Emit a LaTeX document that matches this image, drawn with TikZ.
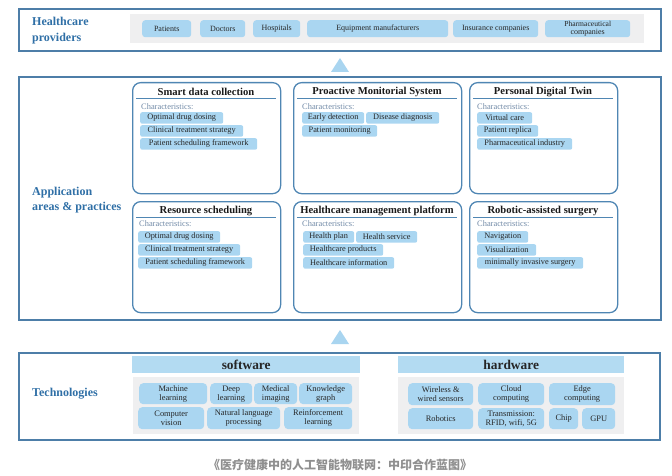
\documentclass[tikz,border=0pt]{standalone}
\usepackage{fontspec}
\setmainfont{Liberation Serif}
\newfontfamily\cjk{Noto Sans CJK SC}
\definecolor{frameblue}{HTML}{4D7EA8}
\definecolor{cardblue}{HTML}{4F86B3}
\definecolor{labelblue}{HTML}{2F6FA6}
\definecolor{chipblue}{HTML}{AAD6F1}
\definecolor{headblue}{HTML}{B3DBF2}
\definecolor{bandgray}{HTML}{EFEFF0}
\definecolor{chartext}{HTML}{7089A6}
\definecolor{captiongray}{HTML}{8F8F8F}
\definecolor{tribl}{HTML}{A9D5F0}
\newcommand\mybox[6]{\node[#1, anchor=north west, minimum width={(#4-#2)*1pt}, minimum height={(#5-#3)*1pt}] (#6) at (#2,#3)}
\tikzset{
  frame/.style={draw=frameblue, line width=1.6pt, inner sep=0pt},
  band/.style={fill=bandgray, inner sep=0pt},
  card/.style={draw=cardblue, line width=1.3pt, rounded corners=8pt, inner sep=0pt},
  topchip/.style={fill=chipblue, rounded corners=3pt, inner sep=0pt, align=center, text=black!85, font=\fontsize{8}{8}\selectfont},
  chip/.style={fill=chipblue, rounded corners=2pt, inner sep=0pt, text=black!85, font=\fontsize{8.3}{9}\selectfont},
  techchip/.style={fill=chipblue, rounded corners=4pt, inner sep=0pt, align=center, text=black!85, font=\fontsize{8.4}{9}\selectfont},
  head/.style={fill=headblue, inner sep=0pt, font=\fontsize{13.4}{14}\selectfont\bfseries, text=black!85},
  sidelabel/.style={anchor=west, align=left, inner sep=0pt, text=labelblue, font=\fontsize{12}{15.5}\selectfont\bfseries},
  cardtitle/.style={inner sep=0pt, font=\fontsize{10.6}{12}\selectfont\bfseries, text=black!90},
  titleline/.style={draw=cardblue, line width=1.5pt},
  chars/.style={anchor=west, inner sep=0pt, text=chartext, font=\fontsize{8.4}{9}\selectfont},
  tri/.style={fill=tribl}
}
\begin{document}
\begin{tikzpicture}[x=1pt,y=-1pt]
\useasboundingbox (0,0) rectangle (672,476);
% ---------- top band ----------
\mybox{frame}{18}{8}{660}{50}{topframe}{};
\mybox{band}{130}{14}{644}{43}{topband}{};
\node[sidelabel] (toplabel) at (32,30.5) {Healthcare\\providers};
\mybox{topchip}{142}{20}{191}{37}{p1}{Patients};
\mybox{topchip}{200}{20}{245}{37}{p2}{Doctors};
\mybox{topchip}{253}{20}{300}{37}{p3}{Hospitals};
\mybox{topchip}{307}{20}{448}{37}{p4}{Equipment manufacturers};
\mybox{topchip}{453}{20}{538}{37}{p5}{Insurance companies};
\mybox{topchip}{545}{20}{630}{37}{p6}{\fontsize{7.6}{8}\selectfont Pharmaceutical\\[-0.5pt]companies};
\fill[tri] (331,72) -- (340,58) -- (349,72) -- cycle;
% ---------- middle band ----------
\mybox{frame}{18}{76}{660}{319}{midframe}{};
\node[sidelabel] (midlabel) at (32,200) {Application\\areas \& practices};
% cards
\mybox{card}{132}{82}{280}{193}{c1}{};
\mybox{card}{293}{82}{461}{193}{c2}{};
\mybox{card}{469}{82}{617}{193}{c3}{};
\mybox{card}{132}{201}{280}{312}{c4}{};
\mybox{card}{293}{201}{461}{312}{c5}{};
\mybox{card}{469}{201}{617}{312}{c6}{};
\node[cardtitle] (t1) at (206,92) {Smart data collection};
\node[cardtitle] (t2) at (377,92) {Proactive Monitorial System};
\node[cardtitle] (t3) at (543,92) {Personal Digital Twin};
\node[cardtitle] (t4) at (206,211) {Resource scheduling};
\node[cardtitle] (t5) at (377,211) {Healthcare management platform};
\node[cardtitle] (t6) at (543,211) {Robotic-assisted surgery};
\draw[titleline] (136,98.5) -- (276,98.5);
\draw[titleline] (297,98.5) -- (457,98.5);
\draw[titleline] (473,98.5) -- (613,98.5);
\draw[titleline] (136,217.5) -- (276,217.5);
\draw[titleline] (297,217.5) -- (457,217.5);
\draw[titleline] (473,217.5) -- (613,217.5);
\node[chars] (h1) at (141,106.5) {Characteristics:};
\node[chars] (h2) at (302,106.5) {Characteristics:};
\node[chars] (h3) at (477,106.5) {Characteristics:};
\node[chars] (h4) at (139,224) {Characteristics:};
\node[chars] (h5) at (302,224) {Characteristics:};
\node[chars] (h6) at (477,224) {Characteristics:};
% card 1
\mybox{chip}{140}{112}{223}{123.5}{a1}{Optimal drug dosing};
\mybox{chip}{140}{125}{243}{136.5}{a2}{Clinical treatment strategy};
\mybox{chip}{140}{138}{257}{149.5}{a3}{Patient scheduling framework};
% card 2
\mybox{chip}{302}{112}{364}{123.5}{b1}{Early detection};
\mybox{chip}{366}{112}{439}{123.5}{b2}{Disease diagnosis};
\mybox{chip}{302}{125}{377}{136.5}{b3}{Patient monitoring};
% card 3
\mybox{chip}{477}{112}{532}{123.5}{d1}{Virtual care};
\mybox{chip}{477}{125}{538}{136.5}{d2}{Patient replica};
\mybox{chip}{477}{138}{572}{149.5}{d3}{Pharmaceutical industry};
% card 4
\mybox{chip}{138}{231}{220}{242.5}{e1}{Optimal drug dosing};
\mybox{chip}{138}{244}{240}{255.5}{e2}{Clinical treatment strategy};
\mybox{chip}{138}{257}{252}{268.5}{e3}{Patient scheduling framework};
% card 5
\mybox{chip}{303}{231}{354}{242.5}{f1}{Health plan};
\mybox{chip}{356}{231}{417}{242.5}{f2}{Health service};
\mybox{chip}{303}{244}{383}{255.5}{f3}{Healthcare products};
\mybox{chip}{303}{257}{394}{268.5}{f4}{Healthcare information};
% card 6
\mybox{chip}{477}{231}{528}{242.5}{g1}{Navigation};
\mybox{chip}{477}{244}{536}{255.5}{g2}{Visualization};
\mybox{chip}{477}{257}{583}{268.5}{g3}{minimally invasive surgery};
\fill[tri] (331,344) -- (340,330) -- (349,344) -- cycle;
% ---------- bottom band ----------
\mybox{frame}{18}{352}{659}{439}{botframe}{};
\node[sidelabel] (botlabel) at (32,394) {Technologies};
\mybox{head}{132}{356}{360}{373}{sw}{software};
\mybox{band}{133}{377}{359}{434}{swband}{};
\mybox{techchip}{139}{383}{207}{404}{s1}{Machine\\learning};
\mybox{techchip}{210}{383}{252}{404}{s2}{Deep\\learning};
\mybox{techchip}{254}{383}{297}{404}{s3}{Medical\\imaging};
\mybox{techchip}{299}{383}{352}{404}{s4}{Knowledge\\graph};
\mybox{techchip}{138}{407}{204}{429}{s5}{Computer\\vision};
\mybox{techchip}{207}{407}{280}{429}{s6}{Natural language\\processing};
\mybox{techchip}{284}{407}{352}{429}{s7}{Reinforcement\\learning};
\mybox{head}{398}{356}{624}{373}{hw}{hardware};
\mybox{band}{398}{377}{624}{434}{hwband}{};
\mybox{techchip}{408}{383}{473}{405}{w1}{Wireless \&\\wired sensors};
\mybox{techchip}{478}{383}{544}{405}{w2}{Cloud\\computing};
\mybox{techchip}{549}{383}{615}{405}{w3}{Edge\\computing};
\mybox{techchip}{408}{408}{473}{429}{w4}{Robotics};
\mybox{techchip}{478}{408}{544}{429}{w5}{Transmission:\\RFID, wifi, 5G};
\mybox{techchip}{549}{408}{578}{429}{w6}{Chip};
\mybox{techchip}{582}{408}{615}{429}{w7}{GPU};
% caption
\node[inner sep=0pt, text=captiongray, font=\cjk\bfseries\fontsize{12}{14}\selectfont] (cap) at (340,465) {《医疗健康中的人工智能物联网：中印合作蓝图》};
\end{tikzpicture}
\end{document}
